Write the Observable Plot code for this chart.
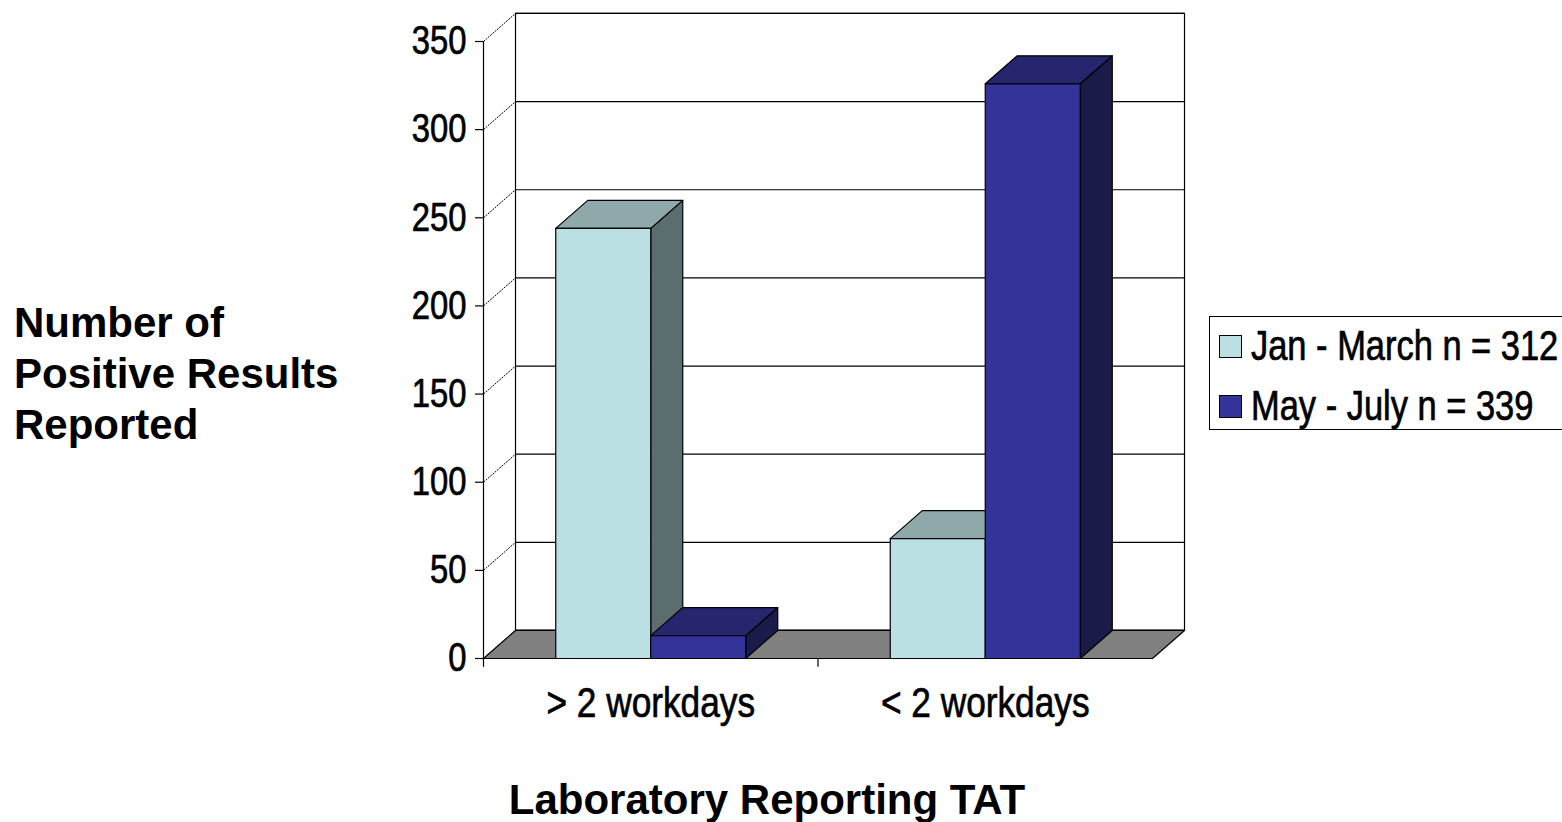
<!DOCTYPE html>
<html><head><meta charset="utf-8">
<script src="https://cdn.jsdelivr.net/npm/d3@7"></script>
<script src="https://cdn.jsdelivr.net/npm/@observablehq/plot@0.6"></script>
<style>
body{margin:0;background:#fff;}
#wrap{position:relative;width:1562px;height:822px;overflow:hidden;background:#fff;}
#chart{position:absolute;left:0;top:0;}
.ytitle{position:absolute;left:14px;top:297px;font:bold 42px 'Liberation Sans',Arial,sans-serif;line-height:51px;color:#000;}
.xtitle{position:absolute;left:0;width:1534px;top:774px;text-align:center;font:bold 42px 'Liberation Sans',Arial,sans-serif;line-height:51px;color:#000;}
.legend{position:absolute;left:1209px;top:316px;width:400px;height:112px;border:1px solid #000;background:#fff;font:42px 'Liberation Sans',Arial,sans-serif;color:#000;}
.legend .row{position:absolute;left:9px;height:48px;line-height:48px;white-space:nowrap;}
.legend .sw{display:inline-block;width:21px;height:21px;border:1px solid #000;vertical-align:middle;margin-right:9px;position:relative;top:-3px;}
.legend .lbl{display:inline-block;transform:scaleX(0.82);transform-origin:0 50%;vertical-align:middle;position:relative;top:-4px;-webkit-text-stroke:0.7px #000;}
</style></head><body>
<div id="wrap">
<div id="chart"></div>
<div class="ytitle">Number of<br>Positive Results<br>Reported</div>
<div class="xtitle" id="xtitle"></div>
<div class="legend" id="legend"></div>
</div>
<script>
const categories = ["> 2 workdays", "< 2 workdays"];
const seriesNames = ["Jan - March n = 312", "May - July n = 339"];
const janMarch = [244, 68];
const mayJuly = [13, 326];
const yTicks = [0, 50, 100, 150, 200, 250, 300, 350];
const xTitle = "Laboratory Reporting TAT";

// colours: front, top, side
const seriesColors = [
  {front: "#BBE0E3", top: "#8FA8AA", side: "#5B6D6E"},
  {front: "#333399", top: "#26266F", side: "#1B1B4A"}
];
const floorColor = "#808080";

// depth of the 3D box, in data units (x: category units, y: value units)
const DX = 0.0957, DY = 15.9;
const GAP = 0.216, BW = 0.284;
const NARROW = 0.82;

const seriesValues = [janMarch, mayJuly];

function face(points, fill) {
  return Plot.line(points, {x: "x", y: "y", fill, stroke: "#000", strokeWidth: 1.2, curve: "linear-closed"});
}

const marks = [];
// back wall
marks.push(face([{x: DX, y: DY}, {x: 2 + DX, y: DY}, {x: 2 + DX, y: 350 + DY}, {x: DX, y: 350 + DY}], "#fff"));
// back gridlines
marks.push(Plot.ruleY(yTicks, {y: d => d + DY, x1: DX, x2: 2 + DX, stroke: "#000", strokeWidth: 1.2}));
// side wall diagonals
marks.push(Plot.link(yTicks, {x1: 0, y1: d => d, x2: DX, y2: d => d + DY, stroke: "#000", strokeWidth: 1, strokeDasharray: "2,1"}));
// floor
marks.push(face([{x: 0, y: 0}, {x: 2, y: 0}, {x: 2 + DX, y: DY}, {x: DX, y: DY}], floorColor));

// bars
categories.forEach((c, i) => {
  seriesValues.forEach((vals, s) => {
    const v = vals[i];
    const x0 = i + GAP + s * BW, x1 = x0 + BW;
    const col = seriesColors[s];
    marks.push(face([{x: x1, y: 0}, {x: x1 + DX, y: DY}, {x: x1 + DX, y: v + DY}, {x: x1, y: v}], col.side));
    marks.push(face([{x: x0, y: v}, {x: x1, y: v}, {x: x1 + DX, y: v + DY}, {x: x0 + DX, y: v + DY}], col.top));
    marks.push(face([{x: x0, y: 0}, {x: x1, y: 0}, {x: x1, y: v}, {x: x0, y: v}], col.front));
  });
});

// front axes
marks.push(Plot.ruleX([0], {y1: 0, y2: 350, stroke: "#000", strokeWidth: 1.2}));
marks.push(Plot.ruleY([0], {x1: 0, x2: 2, stroke: "#000", strokeWidth: 1.2}));
marks.push(Plot.ruleX([0, 1], {y1: 0, y2: -5, stroke: "#000", strokeWidth: 1.2}));
marks.push(Plot.axisY(yTicks, {tickSize: 8, tickPadding: 9, fontSize: 40, tickFormat: d => String(d), strokeWidth: 1.2, label: null}));
marks.push(Plot.text(categories, {x: (d, i) => i + 0.5, y: 0, dy: 45, text: d => d, fontSize: 43, fill: "#000"}));

const chart = Plot.plot({
  width: 1562,
  height: 822,
  marginLeft: 483,
  marginRight: 410,
  marginTop: 41,
  marginBottom: 164,
  style: {fontFamily: "'Liberation Sans',Arial,sans-serif", background: "transparent", color: "#000", overflow: "visible"},
  x: {type: "linear", domain: [0, 2], axis: null},
  y: {type: "linear", domain: [0, 350], axis: null},
  marks
});
// condense tick and category labels horizontally (Arial Narrow look)
chart.querySelectorAll("text").forEach(t => {
  const tr = t.getAttribute("transform");
  if (tr) {
    t.setAttribute("transform", tr + ` scale(${NARROW},1)`);
  } else {
    const x = +(t.getAttribute("x") || 0);
    t.removeAttribute("x");
    t.setAttribute("transform", `translate(${x},0) scale(${NARROW},1)`);
  }
  t.setAttribute("stroke", "#000");
  t.setAttribute("stroke-width", "0.7");
});
document.getElementById("chart").appendChild(chart);
document.getElementById("xtitle").textContent = xTitle;

const legend = document.getElementById("legend");
seriesNames.forEach((name, s) => {
  const row = document.createElement("div");
  row.className = "row";
  row.style.top = (6 + s * 60) + "px";
  const sw = document.createElement("span");
  sw.className = "sw";
  sw.style.background = seriesColors[s].front;
  row.appendChild(sw);
  const lbl = document.createElement("span");
  lbl.className = "lbl";
  lbl.textContent = name;
  row.appendChild(lbl);
  legend.appendChild(row);
});
</script>
</body></html>
